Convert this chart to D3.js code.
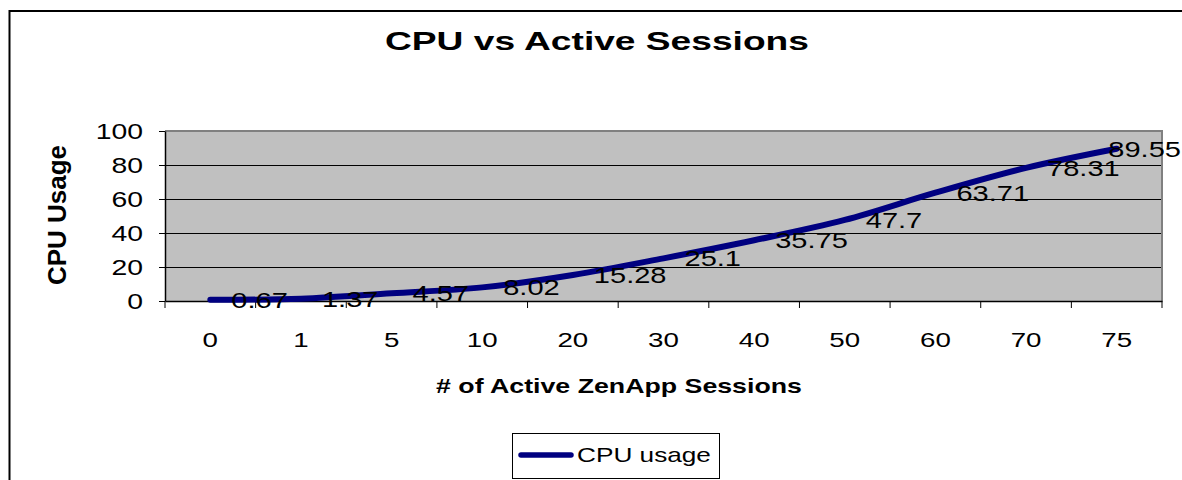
<!DOCTYPE html>
<meta charset="utf-8">
<style>
body { margin: 0; background: #fff; }
svg { display: block; font-family: "Liberation Sans", Arial, sans-serif; }
</style>
<svg width="1182" height="480"></svg>
<script src="https://cdn.jsdelivr.net/npm/d3@7"></script>
<script>
// data
var sessions = ["0", "1", "5", "10", "20", "30", "40", "50", "60", "70", "75"];
var cpuUsage = [0.67, 1.37, 4.57, 8.02, 15.28, 25.1, 35.75, 47.7, 63.71, 78.31, 89.55];
var yTicks = [0, 20, 40, 60, 80, 100];
var seriesName = "CPU usage";

var svg = d3.select("svg");
var sx = 1.32; // the picture's text is stretched sideways

var pLeft = 165, pRight = 1162, pTop = 131, pBottom = 301;
var x = d3.scaleBand().domain(sessions).range([pLeft, pRight]).padding(0);
var y = d3.scaleLinear().domain([0, 100]).range([pBottom, pTop]);
var bw = x.bandwidth();

// stretch a text to a given width around its anchor
function fitWidth(sel, w) {
  sel.each(function() {
    var t = d3.select(this);
    var bb = this.getBBox();
    var ax = +t.attr("x"), ay = +t.attr("y");
    var k = w / bb.width;
    t.attr("transform", "translate(" + ax + "," + ay + ") scale(" + k + ",1) translate(" + (-ax) + "," + (-ay) + ")");
  });
}

// outer frame (only top and left show)
svg.append("path")
    .attr("d", "M9.5,481V11H1183")
    .attr("fill", "none").attr("stroke", "#000").attr("stroke-width", 2);

// title
svg.append("text")
    .attr("x", 597).attr("y", 50)
    .attr("text-anchor", "middle")
    .attr("font-size", 25.5).attr("font-weight", "bold")
    .text("CPU vs Active Sessions")
    .call(fitWidth, 424);

// plot background
svg.append("rect")
    .attr("x", pLeft).attr("y", pTop)
    .attr("width", pRight - pLeft).attr("height", pBottom - pTop)
    .attr("fill", "#c0c0c0");

// gridlines
svg.append("g")
    .attr("transform", "translate(" + pLeft + ",0)")
    .call(d3.axisLeft(y).tickValues([20, 40, 60, 80]).tickSize(-(pRight - pLeft)).tickFormat(""))
    .call(g => g.select(".domain").remove())
    .call(g => g.selectAll("line").attr("stroke", "#000"));

// gray border on top and right
svg.append("path")
    .attr("d", "M" + pLeft + "," + pTop + "H" + pRight + "V" + pBottom)
    .attr("fill", "none").attr("stroke", "#808080").attr("stroke-width", 2);

// y axis
var yAxis = svg.append("g")
    .attr("transform", "translate(" + pLeft + ",0)")
    .call(d3.axisLeft(y).tickValues(yTicks).tickSize(6).tickSizeOuter(0));
yAxis.select(".domain").attr("stroke", "#000").attr("stroke-width", 1.5);
yAxis.selectAll("line").attr("stroke", "#000");
yAxis.selectAll("text")
    .attr("x", 0).attr("dy", "0.36em")
    .attr("font-size", 21.5).attr("fill", "#000")
    .attr("font-family", "Liberation Sans, Arial, sans-serif")
    .attr("transform", "translate(-22,0) scale(" + sx + ",1)");

// x axis, labels at the band centres
var xAxis = svg.append("g")
    .attr("transform", "translate(0," + pBottom + ")")
    .call(d3.axisBottom(x).tickSize(0).tickSizeOuter(0));
xAxis.select(".domain").attr("stroke", "#000").attr("stroke-width", 1.5);
xAxis.selectAll("text")
    .attr("y", 0).attr("dy", 0)
    .attr("font-size", 21).attr("fill", "#000")
    .attr("font-family", "Liberation Sans, Arial, sans-serif")
    .attr("transform", "translate(0,46) scale(" + sx + ",1)");

// tick marks between categories
var edges = sessions.map(d => x(d)).concat([x(sessions[sessions.length - 1]) + bw]);
svg.append("g").selectAll("line")
    .data(edges)
    .join("line")
    .attr("x1", d => d).attr("x2", d => d)
    .attr("y1", pBottom).attr("y2", pBottom + 7)
    .attr("stroke", "#000");

// axis titles
svg.append("text")
    .attr("x", 619).attr("y", 393)
    .attr("text-anchor", "middle")
    .attr("font-size", 21).attr("font-weight", "bold")
    .text("# of Active ZenApp Sessions")
    .call(fitWidth, 366);

svg.append("text")
    .attr("transform", "translate(66,215) rotate(-90)")
    .attr("text-anchor", "middle")
    .attr("font-size", 26).attr("font-weight", "bold")
    .text("CPU Usage");

// the line
var pts = sessions.map((s, i) => ({s: s, v: cpuUsage[i]}));
var line = d3.line()
    .x(d => x(d.s) + bw / 2)
    .y(d => y(d.v))
    .curve(d3.curveCatmullRom.alpha(0.5));

svg.append("path")
    .datum(pts)
    .attr("d", line)
    .attr("fill", "none")
    .attr("stroke", "#000080")
    .attr("stroke-width", 6)
    .attr("stroke-linecap", "round")
    .attr("stroke-linejoin", "round");

// data labels to the right of each point
svg.append("g").selectAll("text")
    .data(pts)
    .join("text")
    .attr("font-size", 22)
    .attr("dy", "0.36em")
    .text(d => d.v)
    .each(function(d) {
      var w = this.getBBox().width * sx;
      var px = x(d.s) + bw / 2 + 21;
      if (px + w > 1181) px = 1181 - w;
      d3.select(this).attr("transform", "translate(" + px + "," + y(d.v) + ") scale(" + sx + ",1)");
    });

// legend
var lg = svg.append("g");
lg.append("rect")
    .attr("x", 512.5).attr("y", 433.5)
    .attr("width", 207).attr("height", 45)
    .attr("fill", "#fff").attr("stroke", "#000");
lg.append("line")
    .attr("x1", 521).attr("x2", 571)
    .attr("y1", 455).attr("y2", 455)
    .attr("stroke", "#000080").attr("stroke-width", 5.5)
    .attr("stroke-linecap", "round");
lg.append("text")
    .attr("x", 577).attr("y", 462)
    .attr("font-size", 21)
    .text(seriesName)
    .call(fitWidth, 134);
</script>
